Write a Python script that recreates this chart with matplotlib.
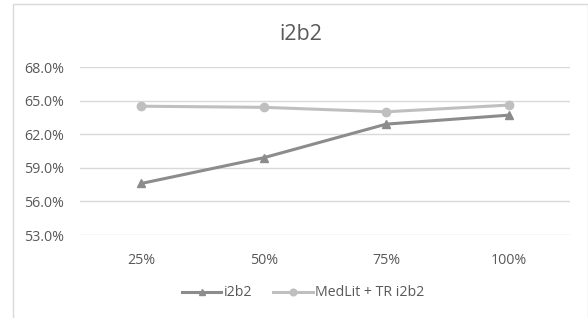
import matplotlib.pyplot as plt
from matplotlib.patches import Rectangle
from matplotlib.ticker import FuncFormatter

# data
categories = ['25%', '50%', '75%', '100%']
i2b2 = [57.6, 59.9, 62.9, 63.7]
medlit_tr = [64.5, 64.4, 64.0, 64.6]
yticks = [53, 56, 59, 62, 65, 68]

plt.rcParams['font.family'] = ['Open Sans', 'DejaVu Sans']
text_col = '#595959'

fig = plt.figure(figsize=(5.88, 3.18), dpi=100)
# chart area border
fig.patches.append(Rectangle((13 / 588, -0.1), 575 / 588, 1.1 - 4 / 318,
                             transform=fig.transFigure, fill=False,
                             edgecolor='#d9d9d9', linewidth=1))

ax = fig.add_axes([80 / 588, 1 - 235 / 318, 490 / 588, 168 / 318])
x = range(len(categories))
ax.plot(x, i2b2, color='#8c8c8c', linewidth=2.2, marker='^', markersize=6,
        label='i2b2')
ax.plot(x, medlit_tr, color='#bfbfbf', linewidth=2.2, marker='o', markersize=6,
        label='MedLit + TR i2b2')

ax.set_xlim(-0.5, len(categories) - 0.5)
ax.set_ylim(53, 68)
ax.set_yticks(yticks)
ax.yaxis.set_major_formatter(FuncFormatter(lambda v, p: f'{v:.1f}%'))
ax.set_xticks(list(x))
ax.set_xticklabels(categories)
ax.grid(axis='y', color='#d9d9d9', linewidth=1)
ax.set_axisbelow(True)
for s in ax.spines.values():
    s.set_visible(False)
ax.tick_params(length=0, labelcolor=text_col, labelsize=10.3)
ax.tick_params(axis='y', pad=11.5)
ax.tick_params(axis='x', pad=13)

fig.text(301 / 588, 1 - 34 / 318, 'i2b2', ha='center', va='center',
         fontsize=15.5, color=text_col)
fig.legend(loc='center', bbox_to_anchor=(303 / 588, 1 - 293 / 318), ncol=2,
           frameon=False, fontsize=10.2, labelcolor=text_col, handlelength=2.8,
           handletextpad=0.15, columnspacing=1.5, markerscale=0.8)

fig.savefig('out.png', dpi=100)
